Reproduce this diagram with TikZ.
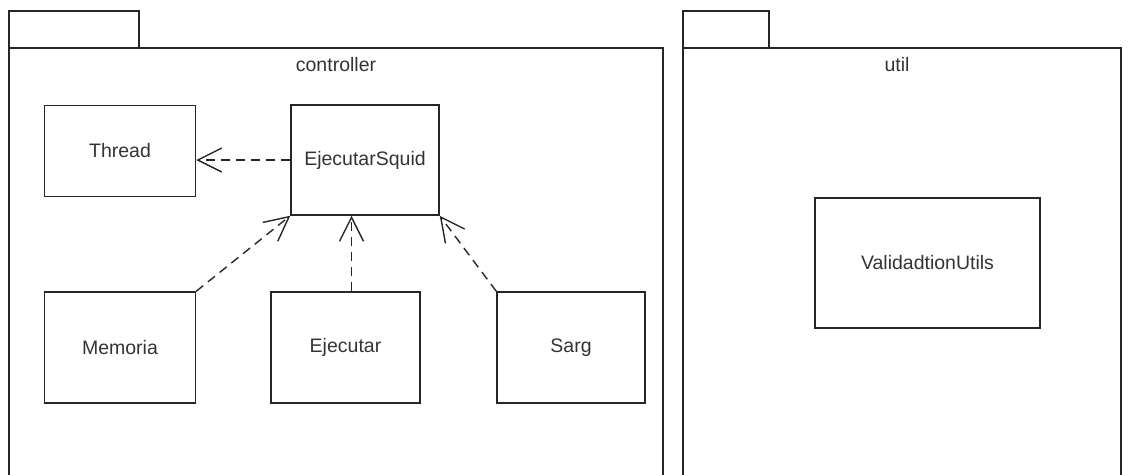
\documentclass[tikz,border=0pt]{standalone}
\usepackage{fontspec}
\setmainfont{Liberation Sans}
\usetikzlibrary{arrows.meta}
\begin{document}
\begin{tikzpicture}[x=1pt,y=-1pt,
  pkg/.style={line width=1.5pt, draw=black!85},
  cls/.style={draw=black!85, line width=1.5pt, inner sep=0pt, font=\fontsize{19.5}{22}\selectfont, text=black!80},
  dep/.style={line width=1.4pt, draw=black!85, dash pattern=on 9pt off 6pt, -{Straight Barb[length=24pt,width=24pt,line width=1.4pt]}},
  lbl/.style={font=\fontsize{19.5}{22}\selectfont, text=black!80, inner sep=0pt}]
\useasboundingbox (0,0) rectangle (1135,474);
% controller package
\draw[pkg] (9,48) -- (9,11) -- (139,11) -- (139,48);
\draw[pkg] (9,476) -- (9,48) -- (663,48) -- (663,476);
\node[lbl] (ctl) at (336,65) {controller};
% util package
\draw[pkg] (683,48) -- (683,11) -- (769,11) -- (769,48);
\draw[pkg] (683,476) -- (683,48) -- (1121,48) -- (1121,476);
\node[lbl] (utl) at (897,65) {util};
% classes
\node[cls, minimum width=151pt, minimum height=91pt] (thread) at (120,151) {Thread};
\node[cls, minimum width=148pt, minimum height=110pt] (squid) at (365,160) {EjecutarSquid};
\node[cls, minimum width=151pt, minimum height=111pt] (mem) at (120,347.5) {Memoria};
\node[cls, minimum width=149pt, minimum height=111pt] (ejec) at (345.5,347.5) {Ejecutar};
\node[cls, minimum width=148pt, minimum height=111pt] (sarg) at (571,347.5) {Sarg};
\node[cls, minimum width=225pt, minimum height=130pt] (val) at (927.5,263) {ValidadtionUtils};
% dependencies
\draw[dep] (squid.west) -- (squid.west -| thread.east);
\draw[dep] (mem.north east) -- (squid.south west);
\draw[dep] ([xshift=6pt]ejec.north) -- ([xshift=6pt]ejec.north |- squid.south);
\draw[dep] (sarg.north west) -- (squid.south east);
\end{tikzpicture}
\end{document}
